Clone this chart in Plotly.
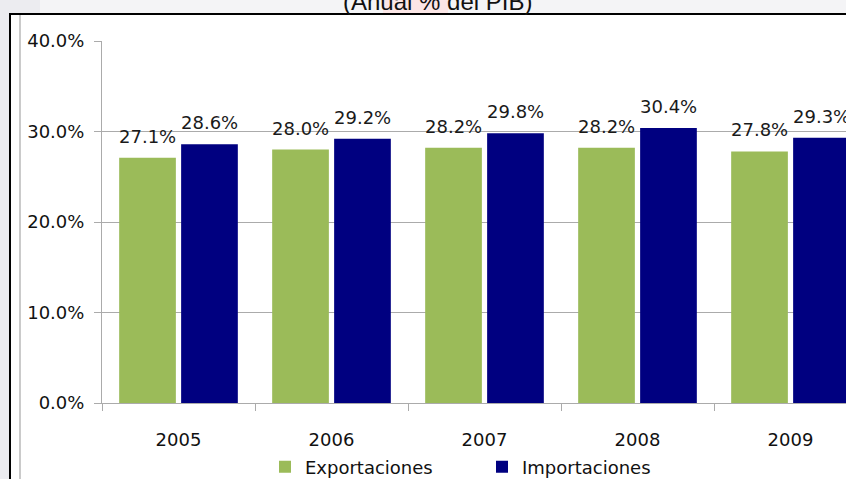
import plotly.graph_objects as go

# Comercio exterior como porcentaje del PIB
years = ["2005", "2006", "2007", "2008", "2009"]
exportaciones = [27.1, 28.0, 28.2, 28.2, 27.8]
importaciones = [28.6, 29.2, 29.8, 30.4, 29.3]
series_names = ["Exportaciones", "Importaciones"]
y_ticks = [0, 10, 20, 30, 40]

GREEN = "#9BBB59"
NAVY = "#000080"
GRID = "#ABABAB"
FONT = "DejaVu Sans"

W, H = 846, 479
ML, MR, MT, MB = 102, 0, 41, 76
plot_w = W - ML - MR
plot_h = H - MT - MB


def px_x(p):
    return (p - ML) / plot_w


def px_y(p):
    return (H - MB - p) / plot_h


fig = go.Figure()
fig.add_trace(go.Bar(x=years, y=exportaciones, name=series_names[0],
                     marker=dict(color=GREEN, line=dict(width=0))))
fig.add_trace(go.Bar(x=years, y=importaciones, name=series_names[1],
                     marker=dict(color=NAVY, line=dict(width=0))))

bargap, groupgap = 0.19, 0.085
slot = (1 - bargap) / 2  # category units per series slot
label_font = dict(family=FONT, size=18, color="#1a1a1a")
annotations = []
for vals, sign in ((exportaciones, -1), (importaciones, 1)):
    for yr, v in zip(years, vals):
        i = years.index(yr)
        annotations.append(dict(
            x=i + sign * slot / 2, y=v, xref="x", yref="y",
            text=f"{v:.1f}%", showarrow=False, yanchor="bottom",
            yshift=9, font=label_font))

# Title line above the chart frame
annotations.append(dict(
    x=px_x(437), y=px_y(17), xref="paper", yref="paper",
    text="(Anual % del PIB)", showarrow=False, yanchor="bottom",
    font=dict(family="Liberation Sans, Arial", size=24, color="#111111")))

shapes = [
    # faint tint strip behind the title
    dict(type="rect", xref="paper", yref="paper", layer="below",
         x0=px_x(40), x1=px_x(W + 5), y0=px_y(14), y1=px_y(-5),
         fillcolor="#F4F4F6", line=dict(width=0)),
    dict(type="rect", xref="paper", yref="paper", layer="below",
         x0=px_x(383), x1=px_x(448), y0=px_y(14), y1=px_y(-5),
         fillcolor="#FBE6E6", line=dict(width=0)),
    # chart frame
    dict(type="rect", xref="paper", yref="paper", layer="below",
         x0=px_x(10), x1=px_x(W + 10), y0=px_y(H + 10), y1=px_y(14),
         fillcolor="white", line=dict(color="black", width=2)),
    # inner vertical rule
    dict(type="line", xref="paper", yref="paper", layer="below",
         x0=px_x(20), x1=px_x(20), y0=px_y(H + 5), y1=px_y(15),
         line=dict(color="#B8B8B8", width=1.5)),
]

tick_font = dict(family=FONT, size=18, color="#111111")
fig.update_layout(
    width=W, height=H,
    margin=dict(l=ML, r=MR, t=MT, b=MB, pad=0, autoexpand=False),
    paper_bgcolor="#ECECF0",
    plot_bgcolor="white",
    barmode="group", bargap=bargap, bargroupgap=groupgap,
    showlegend=True,
    legend=dict(orientation="h", x=px_x(265), y=px_y(467),
                xanchor="left", yanchor="middle",
                font=dict(family=FONT, size=18, color="#111111"),
                bgcolor="rgba(0,0,0,0)", itemwidth=30,
                entrywidth=172, entrywidthmode="pixels",
                traceorder="normal"),
    xaxis=dict(type="category", range=[-0.5, -0.5 + plot_w / 153],
               showgrid=False, showline=True, linecolor=GRID, linewidth=1,
               ticks="outside", tickson="boundaries", ticklen=7,
               tickcolor=GRID, tickfont=tick_font, zeroline=False,
               ticklabelstandoff=20, automargin=False),
    yaxis=dict(range=[0, 40], tickvals=y_ticks,
               ticktext=[f"{t:.1f}%" for t in y_ticks],
               showgrid=True, gridcolor=GRID, gridwidth=1,
               showline=True, linecolor=GRID, linewidth=1,
               ticks="outside", ticklen=7, tickcolor=GRID,
               tickfont=tick_font, zeroline=False,
               ticklabelstandoff=6, automargin=False),
    annotations=annotations,
    shapes=shapes,
)

fig.write_html("out.html")
